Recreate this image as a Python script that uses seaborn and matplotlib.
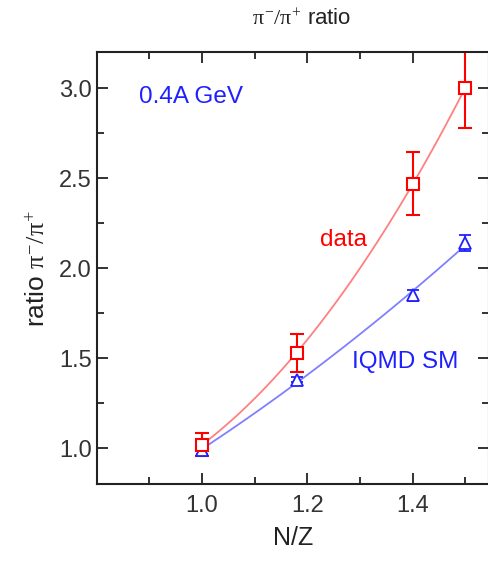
import numpy as np
import pandas as pd
import matplotlib
matplotlib.use("Agg")
import matplotlib.pyplot as plt
import seaborn as sns

nz = [1.0, 1.18, 1.4, 1.5]
data_ratio = [1.02, 1.53, 2.47, 3.00]
data_err = [0.065, 0.105, 0.175, 0.22]
iqmd_ratio = [0.99, 1.38, 1.85, 2.14]
iqmd_err = [0.02, 0.015, 0.03, 0.045]

sns.set_style("ticks")
plt.rcParams['font.family'] = ['Liberation Sans', 'DejaVu Sans']
plt.rcParams['mathtext.fontset'] = 'custom'
plt.rcParams['mathtext.rm'] = 'Liberation Serif'
plt.rcParams['mathtext.it'] = 'Liberation Serif'

fig = plt.figure(figsize=(4.89, 5.61), dpi=100)
ax = fig.add_axes([0.198, 0.137, 0.802, 0.770])

red = '#ff0000'
blue = '#2020ff'

# fitted curves (quadratic fit of the points)
xs = np.linspace(1.0, 1.5, 100)
cr = np.polyfit(nz, data_ratio, 2)
cb = np.polyfit(nz, iqmd_ratio, 2)
fit = pd.DataFrame({'x': np.concatenate([xs, xs]),
                    'y': np.concatenate([np.polyval(cr, xs), np.polyval(cb, xs)]),
                    's': ['data'] * len(xs) + ['IQMD'] * len(xs)})
sns.lineplot(data=fit, x='x', y='y', hue='s', palette={'data': '#ff8080', 'IQMD': '#8080ff'},
             ax=ax, legend=False, linewidth=1.3)

ax.errorbar(nz, iqmd_ratio, yerr=iqmd_err, fmt='^', color=blue, mfc='white', mec=blue,
            ms=8, mew=1.3, capsize=4.5, elinewidth=1.3, capthick=2.5, clip_on=False)
ax.errorbar(nz, data_ratio, yerr=data_err, fmt='s', color=red, mfc='white', mec=red,
            ms=8.5, mew=1.5, capsize=5, elinewidth=1.5, capthick=1.5, clip_on=True)

ax.set_xlim(0.8, 1.545)
ax.set_ylim(0.8, 3.2)
ax.set_xticks([1.0, 1.2, 1.4])
ax.set_xticks([0.9, 1.1, 1.3, 1.5], minor=True)
ax.set_yticks([1.0, 1.5, 2.0, 2.5, 3.0])
ax.set_yticks([1.25, 1.75, 2.25, 2.75], minor=True)
ax.set_xticklabels(['1.0', '1.2', '1.4'])
ax.set_yticklabels(['1.0', '1.5', '2.0', '2.5', '3.0'])
ax.tick_params(which='both', direction='in', top=True, right=True, colors='#222222',
               labelcolor='#333333', labelsize=17, width=1.3)
ax.tick_params(which='major', length=8)
ax.tick_params(which='minor', length=5)
ax.tick_params(axis='x', pad=8)
for s in ax.spines.values():
    s.set_linewidth(1.5)
    s.set_color('#222222')

ax.set_xlabel('N/Z', fontsize=18, color='#222222', labelpad=6)
ax.set_ylabel(r'ratio $\pi^{-}/\pi^{+}$', fontsize=19, color='#222222', labelpad=6)
fig.text(0.616, 0.965, r'$\pi^{-}/\pi^{+}$ ratio', ha='center', va='center', fontsize=16, color='#222222')

ax.text(0.979, 2.95, '0.4A GeV', color=blue, fontsize=17.5, ha='center', va='center')
ax.text(1.268, 2.156, 'data', color=red, fontsize=17.5, ha='center', va='center')
ax.text(1.385, 1.478, 'IQMD SM', color=blue, fontsize=17.5, ha='center', va='center')

fig.savefig('out.png', dpi=100)
